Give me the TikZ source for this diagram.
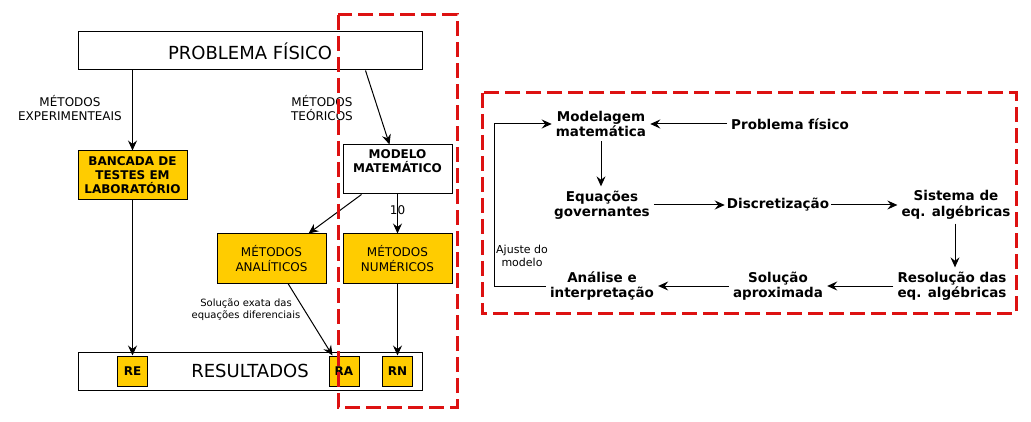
\documentclass[tikz,border=0pt]{standalone}
\usepackage{fontspec}
\setmainfont{DejaVu Sans}
\usetikzlibrary{shapes, arrows, arrows.meta, calc, positioning}
\definecolor{amarelo}{HTML}{FFCC00}
\definecolor{vermelho}{HTML}{DD1111}
\tikzstyle{block} = [rectangle, draw, line width=1pt, fill=white, text centered, align=center, minimum width=109pt, minimum height=49pt, inner sep=0pt, font=\fontsize{12}{14.4}\selectfont]
\tikzstyle{yblock} = [block, fill=amarelo]
\tikzstyle{wide} = [rectangle, draw, line width=1pt, minimum width=344pt, minimum height=38pt, font=\fontsize{18}{22}\selectfont]
\tikzstyle{tag} = [rectangle, draw, line width=1pt, fill=amarelo, minimum size=30pt, inner sep=0pt, font=\bfseries\fontsize{12}{14}\selectfont]
\tikzstyle{etapa} = [align=center, inner sep=4pt, font=\bfseries\fontsize{13.5}{15.5}\selectfont]
\tikzstyle{legenda} = [align=center, inner sep=0pt, font=\fontsize{12}{14}\selectfont]
\tikzstyle{line} = [draw, line width=1pt, -{Stealth[length=10pt, width=9pt, inset=3.5pt]}]
\tikzstyle{moldura} = [draw=vermelho, line width=3pt, dash pattern=on 15pt off 6pt]

\begin{document}
\begin{tikzpicture}[x=1pt, y=-1pt]
        \useasboundingbox (0,0) rectangle (1031,422);

        % lado esquerdo
        \node[wide] (pf) at (250,51) {PROBLEMA FÍSICO};

        \node[yblock, font=\bfseries\fontsize{12}{14}\selectfont] (banc) at (132.5,175.5) {BANCADA DE\\TESTES EM\\LABORATÓRIO};
        \path[line] (pf.south -| banc.north) -- (banc.north);
        \node[legenda] (exp) at (70,108) {MÉTODOS\\EXPERIMENTEAIS};

        \node[block, font=\bfseries\fontsize{12}{14}\selectfont] (mod) at (397.5,169.5) {MODELO\\MATEMÁTICO\\[3pt]~};
        \path[line] ($(pf.south east)+(-57,0)$) -- ($(mod.north)+(-8,0)$);
        \node[legenda] (teo) at (322,108) {MÉTODOS\\TEÓRICOS};

        \node[yblock] (anal) at (271.5,258.5) {MÉTODOS\\ANALÍTICOS};
        \path[line] ($(mod.south west)+(19,0)$) -- ($(anal.north east)+(-18,0)$);

        \node[yblock] (num) at (397.5,258.5) {MÉTODOS\\NUMÉRICOS};
        \path[line] (mod.south) -- node[pos=0.4, font=\fontsize{12}{14}\selectfont] {10} (num.north);

        \node[wide] (res) at (250,371) {RESULTADOS};
        \node[tag] (re) at (132.5,371) {RE};
        \node[tag] (ra) at (344,371) {RA};
        \node[tag] (rn) at (397.5,371) {RN};
        \path[line] (banc.south) -- (re.north);
        \path[line] ($(anal.south)+(16.5,0)$) -- ($(ra.north west)+(4,0)$);
        \path[line] (num.south) -- (rn.north);
        \node[legenda, font=\fontsize{10}{12}\selectfont] (exata) at (246,310) {Solução exata das\\equações diferenciais};

        \draw[moldura] (338,15) rectangle (457,407);

        % lado direito
        \node[etapa] (mm) at (601,124) {Modelagem\\matemática};
        \node[etapa] (fis) at (790,124) {Problema físico};
        \path[line] (fis.west) -- (mm.east);

        \node[etapa] (eq) at (602,205) {Equações\\governantes};
        \path[line] (mm.south) -- (mm.south |- eq.north);

        \node[etapa, inner sep=2pt] (disc) at (778,205) {Discretização};
        \path[line] (eq.east) -- (disc.west);

        \node[etapa] (sis) at (956,205) {Sistema de\\eq. algébricas};
        \path[line] (disc.east) -- (sis.west);

        \node[etapa] (resol) at (952,286) {Resolução das\\eq. algébricas};
        \path[line] ($(sis.south)+(-1,0)$) -- ($(sis.south |- resol.north)+(-1,0)$);

        \node[etapa] (sol) at (778,286) {Solução\\aproximada};
        \path[line] (resol.west) -- (sol.east);

        \node[etapa] (ana) at (602,286) {Análise e\\interpretação};
        \path[line] (sol.west) -- (ana.east);

        \coordinate (volta) at (494,286);
        \path[line] (ana.west) -- (ana.west -| volta) |- (mm.west);
        \node[legenda, font=\fontsize{11}{13}\selectfont] (ajuste) at (522,256) {Ajuste do\\modelo};

        \draw[moldura] (482,93) rectangle (1016,313);
    \end{tikzpicture}
\end{document}
